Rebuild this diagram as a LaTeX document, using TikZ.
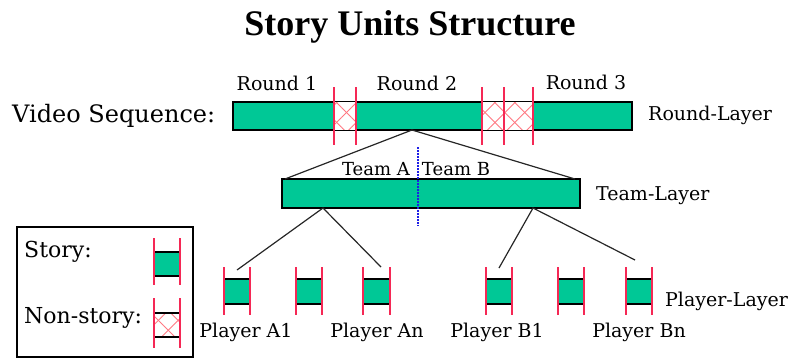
\documentclass[tikz,border=0pt]{standalone}
\usepackage{fontspec}
\setmainfont{DejaVu Serif}
\newfontfamily\headfont{Liberation Serif}
\usetikzlibrary{patterns.meta}

\definecolor{unitgreen}{RGB}{0,200,150}
\definecolor{cutred}{RGB}{245,40,85}
\definecolor{hatchpink}{RGB}{255,120,130}
\definecolor{splitblue}{RGB}{30,30,230}

\tikzset{
  bar/.style={draw=black, line width=1.3pt, fill=unitgreen, inner sep=0pt},
  cut/.style={draw=cutred, line width=1.8pt},
  link/.style={draw=black!85, line width=1.2pt},
  hatchne/.style={pattern={Lines[angle=45,distance=14pt,line width=0.9pt]}, pattern color=hatchpink},
  hatchnw/.style={pattern={Lines[angle=-45,distance=14pt,line width=0.9pt]}, pattern color=hatchpink},
  lbl/.style={inner sep=0pt, anchor=base, font=\fontsize{19}{19}\selectfont},
  lblw/.style={lbl, anchor=base west},
  teamlbl/.style={lbl, font=\fontsize{18}{18}\selectfont},
  bigtxt/.style={inner sep=0pt, anchor=base west, font=\fontsize{22}{22}\selectfont},
  divider/.style={draw=splitblue, line width=1.2pt, dash pattern=on 1.5pt off 1.5pt}
}

\begin{document}
\begin{tikzpicture}[x=1pt, y=-1pt]
\useasboundingbox (0,0) rectangle (790,360);

% title
\node[inner sep=0pt, anchor=base, font=\headfont\bfseries\fontsize{36}{36}\selectfont] (title) at (410,35) {Story Units Structure};

% ---- round layer ----
\node[lbl] (r1) at (277,90) {Round 1};
\node[lbl] (r2) at (417,90) {Round 2};
\node[lbl] (r3) at (586,89) {Round 3};
\node[inner sep=0pt, anchor=base west, font=\fontsize{24}{24}\selectfont] (video) at (12,122) {Video Sequence:};

\node[bar, minimum width=399pt, minimum height=28pt] (roundbar) at (432.5,116) {};
% non-story gaps between the rounds
\foreach \xa/\xb in {334/356, 482/533} {
  \fill[white] (\xa,102) rectangle (\xb,130);
  \fill[hatchne] (\xa,102) rectangle (\xb,130);
  \fill[hatchnw] (\xa,102) rectangle (\xb,130);
}
\draw[line width=1.3pt] (roundbar.south west) rectangle (roundbar.north east);
\foreach \x in {334,356,482,504,533}
  \draw[cut] (\x,87) -- (\x,145);
\node[lblw] (roundlayer) at (648,120) {Round-Layer};

% ---- team layer ----
\coordinate (apex) at (412,130);
\coordinate (teamL) at (285,179);
\coordinate (teamR) at (575,179);
\node[bar, minimum width=298pt, minimum height=29pt] (teambar) at (431,193.5) {};
\draw[link] (teamL) -- (apex) -- (teamR);
\coordinate (divtop) at (418,147);
\coordinate (divbot) at (418,226);
\draw[divider] (divtop) -- (divbot);
\node[teamlbl] (teamA) at (376,175) {Team A};
\node[teamlbl] (teamB) at (456,175) {Team B};
\node[lblw] (teamlayer) at (596,200) {Team-Layer};

% ---- player layer ----
\foreach \n/\xa/\xb in {pa1/224/250, pa2/296/322, pan/363/390, pb1/486/512, pb2/558/584, pbn/626/652} {
  \node[bar, line width=1.2pt, minimum width=26pt, minimum height=25pt] (\n) at ({(\xa+\xb)/2},291.5) {};
  \draw[cut] (\xa,267) -- (\xa,315);
  \draw[cut] (\xb,267) -- (\xb,315);
}
\coordinate (brA) at (323,208);
\coordinate (brB) at (533,208);
\coordinate (endA1) at (237,270);
\coordinate (endAn) at (381,267);
\coordinate (endB1) at (499,268);
\coordinate (endBn) at (635,260);
\draw[link] (endA1) -- (brA) -- (endAn);
\draw[link] (endB1) -- (brB) -- (endBn);

\node[lbl] (la1) at (246,337) {Player A1};
\node[lbl] (lan) at (377,337) {Player An};
\node[lbl] (lb1) at (497,337) {Player B1};
\node[lbl] (lbn) at (639,337) {Player Bn};
\node[lblw] (playerlayer) at (665,306) {Player-Layer};

% ---- legend ----
\node[draw, line width=1.3pt, minimum width=176pt, minimum height=130pt, inner sep=0pt] (legend) at (105,292) {};
\node[bigtxt] (kstory) at (24,257) {Story:};
\node[bigtxt] (knon) at (24,323) {Non-story:};
\node[bar, line width=1.2pt, minimum width=26pt, minimum height=24pt] (keybox) at (167,264) {};
\draw[cut] (154,238) -- (154,285);
\draw[cut] (180,238) -- (180,285);
\fill[hatchne] (154,313) rectangle (180,337);
\fill[hatchnw] (154,313) rectangle (180,337);
\draw[line width=1.2pt] (154,313) -- (180,313);
\draw[line width=1.2pt] (154,337) -- (180,337);
\draw[cut] (154,298) -- (154,348);
\draw[cut] (180,298) -- (180,348);
\end{tikzpicture}
\end{document}
